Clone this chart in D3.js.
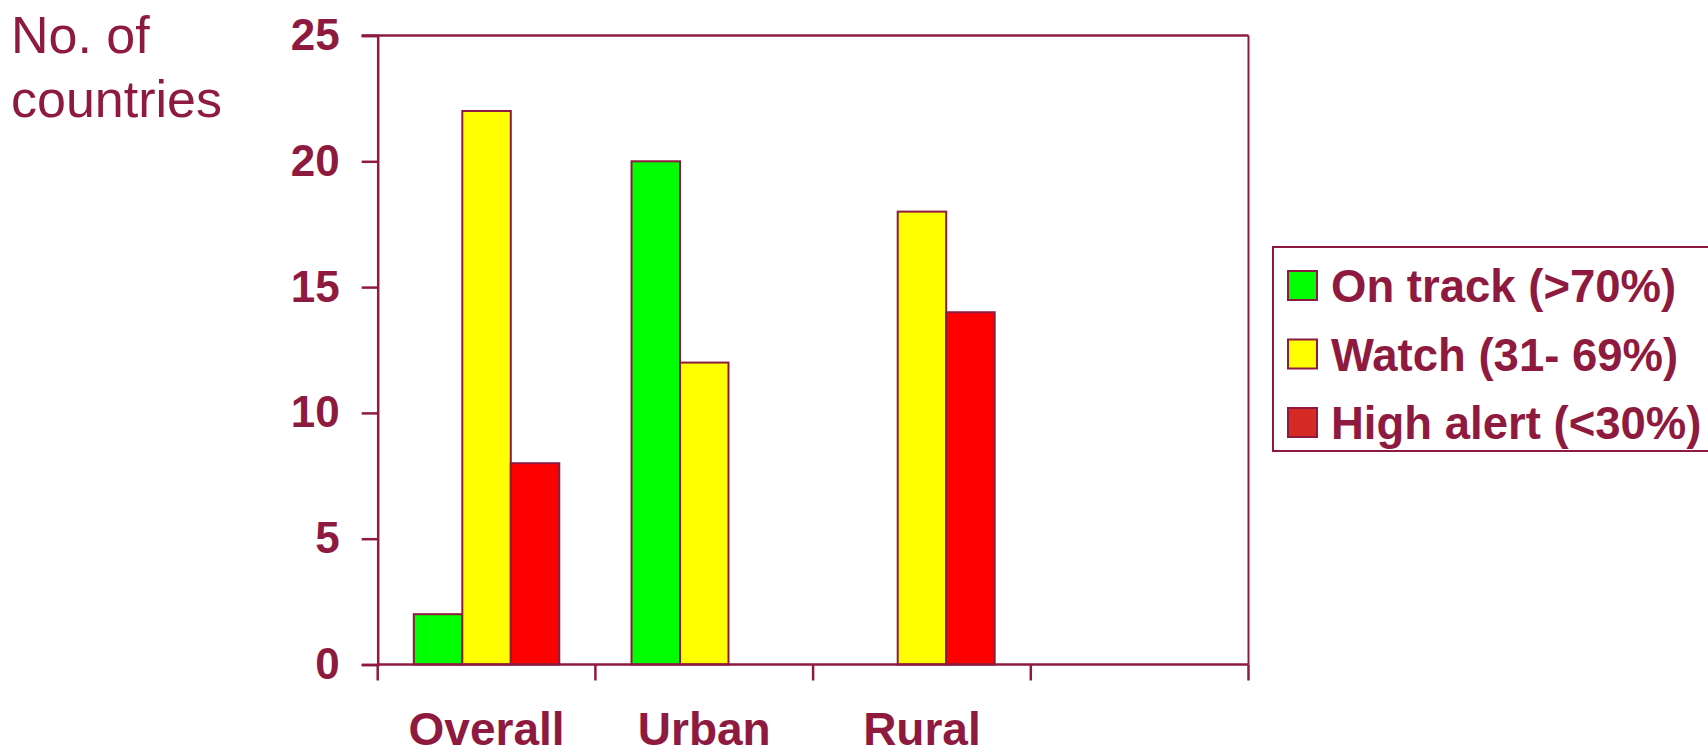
<!DOCTYPE html>
<html>
<head>
<meta charset="utf-8">
<script src="https://cdn.jsdelivr.net/npm/d3@7"></script>
<style>
  html, body { margin: 0; padding: 0; background: #fff; }
  svg { display: block; font-family: "Liberation Sans", Arial, sans-serif; }
</style>
</head>
<body>
<svg id="chart" width="1708" height="756"></svg>
<script>
// Number of countries per coverage status
const categories = ["Overall", "Urban", "Rural"];
const seriesNames = ["On track (>70%)", "Watch (31- 69%)", "High alert (<30%)"];
const onTrack   = [2, 20, 0];
const watch     = [22, 12, 18];
const highAlert = [8, 0, 14];
const yTicks = [0, 5, 10, 15, 20, 25];
const yTitle = ["No. of", "countries"];

const seriesValues = [onTrack, watch, highAlert];
const barColors = ["#00FF00", "#FFFF00", "#FF0000"];
const legendColors = ["#00FF00", "#FFFF00", "#D62A24"];
const ink = "#8E1B3F";

const svg = d3.select("#chart");
const plotLeft = 377.7, plotRight = 1248.5, plotTop = 35.5, plotBottom = 664.5;

// one blank slot after the last category, as on the source axis
const x = d3.scaleBand()
  .domain(categories.concat([""]))
  .range([plotLeft, plotRight])
  .padding(0);

const x1 = d3.scaleBand()
  .domain(d3.range(seriesNames.length))
  .range([0, x.bandwidth()])
  .paddingInner(0)
  .paddingOuter(0.745);

const y = d3.scaleLinear().domain([0, 25]).range([plotBottom, plotTop]);

// plot frame: top and right edges
svg.append("line")
  .attr("x1", plotLeft - 16).attr("x2", plotRight)
  .attr("y1", y(25)).attr("y2", y(25))
  .attr("stroke", ink).attr("stroke-width", 2.5);
svg.append("line")
  .attr("x1", plotRight).attr("x2", plotRight)
  .attr("y1", y(25)).attr("y2", y(0))
  .attr("stroke", ink).attr("stroke-width", 2);

// bars
const rows = [];
categories.forEach((c, i) => {
  seriesValues.forEach((vals, s) => {
    if (vals[i] > 0) rows.push({ cat: c, s: s, v: vals[i] });
  });
});

svg.append("g").selectAll("rect")
  .data(rows)
  .join("rect")
  .attr("x", d => x(d.cat) + x1(d.s))
  .attr("y", d => y(d.v))
  .attr("width", x1.bandwidth())
  .attr("height", d => y(0) - y(d.v))
  .attr("fill", d => barColors[d.s])
  .attr("stroke", ink)
  .attr("stroke-width", 2);

// y axis
const yAxis = svg.append("g")
  .attr("transform", `translate(${plotLeft},0)`)
  .call(d3.axisLeft(y).tickValues(yTicks).tickFormat(d3.format("d")).tickSize(16).tickPadding(22));
yAxis.select(".domain").attr("stroke", ink).attr("stroke-width", 2.5);
yAxis.selectAll(".tick line").attr("stroke", ink).attr("stroke-width", 2.5);
yAxis.selectAll(".tick text")
  .attr("fill", ink)
  .attr("font-size", 44)
  .attr("font-weight", "bold")
  .attr("font-family", "'Liberation Sans', Arial, sans-serif");

// x axis baseline and category divider ticks
svg.append("line")
  .attr("x1", plotLeft).attr("x2", plotRight)
  .attr("y1", y(0)).attr("y2", y(0))
  .attr("stroke", ink).attr("stroke-width", 2.5);

const bounds = x.domain().map(d => x(d)).concat([x.range()[1]]);
svg.append("g").selectAll("line")
  .data(bounds)
  .join("line")
  .attr("x1", d => d).attr("x2", d => d)
  .attr("y1", y(0)).attr("y2", y(0) + 16)
  .attr("stroke", ink).attr("stroke-width", 2.5);

svg.append("g").selectAll("text")
  .data(categories)
  .join("text")
  .attr("x", d => x(d) + x.bandwidth() / 2)
  .attr("y", 745)
  .attr("text-anchor", "middle")
  .attr("fill", ink)
  .attr("font-size", 46)
  .attr("font-weight", "bold")
  .text(d => d);

// y title
svg.append("text")
  .attr("fill", ink)
  .attr("font-size", 52)
  .selectAll("tspan")
  .data(yTitle)
  .join("tspan")
  .attr("x", 11)
  .attr("y", (d, i) => 53 + i * 64)
  .text(d => d);

// legend
const lg = svg.append("g").attr("transform", "translate(1273,247)");
lg.append("rect")
  .attr("width", 460).attr("height", 204)
  .attr("fill", "#fff")
  .attr("stroke", ink).attr("stroke-width", 2);

const item = lg.selectAll("g.item")
  .data(seriesNames)
  .join("g")
  .attr("class", "item")
  .attr("transform", (d, i) => `translate(0,${i * 68.5})`);

item.append("rect")
  .attr("x", 15).attr("y", 24)
  .attr("width", 29).attr("height", 29)
  .attr("fill", (d, i) => legendColors[i])
  .attr("stroke", ink).attr("stroke-width", 2);

item.append("text")
  .attr("x", 58).attr("y", 55)
  .attr("fill", ink)
  .attr("font-size", 45.5)
  .attr("font-weight", "bold")
  .text(d => d);
</script>
</body>
</html>
